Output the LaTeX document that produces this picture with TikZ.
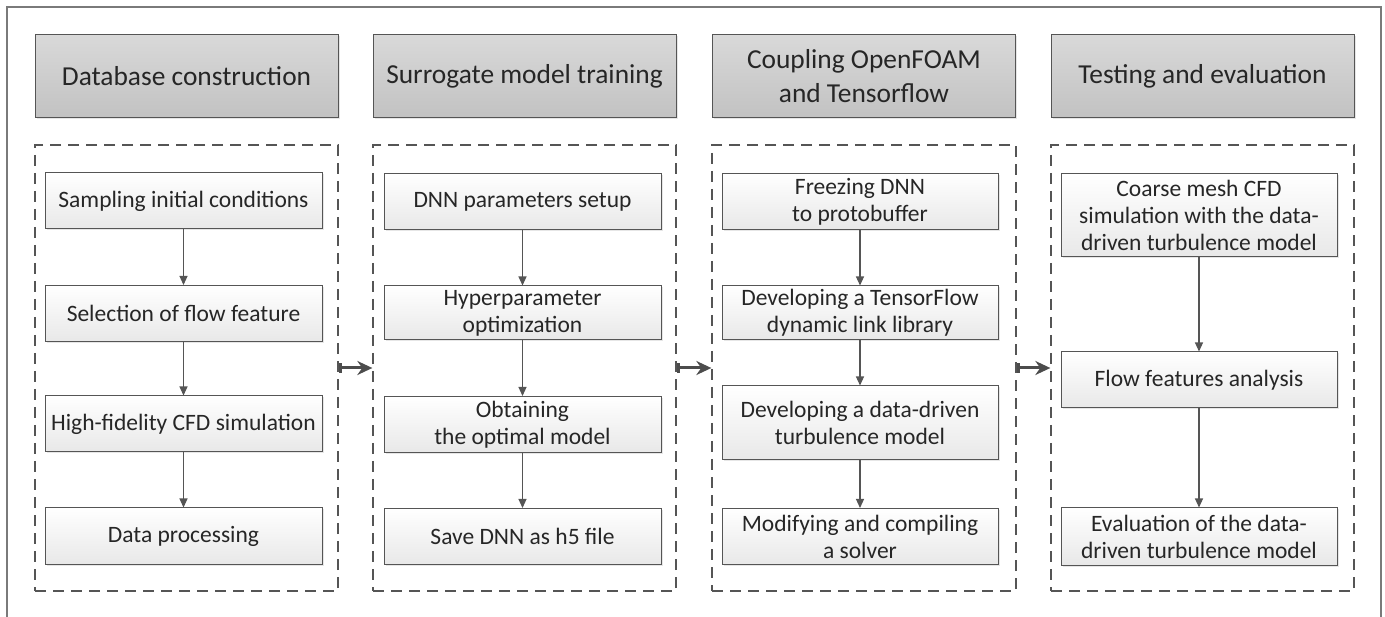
\documentclass[tikz,border=0pt]{standalone}
\usepackage{fontspec}
\setmainfont{Carlito}
\usetikzlibrary{arrows.meta,shadows}
\definecolor{edge}{HTML}{555555}
\definecolor{frame}{HTML}{7A7A7A}
\begin{document}
\begin{tikzpicture}[x=1pt,y=1pt]
  \tikzstyle{head}=[draw=edge,line width=1pt,minimum width=303pt,minimum height=83pt,align=center,
    top color=gray!30,bottom color=gray!48,font=\fontsize{27.4}{34}\selectfont,text=black!85,
    drop shadow={shadow xshift=1.5pt,shadow yshift=-1.5pt,opacity=0.2}]
  \tikzstyle{stage}=[draw=edge,dashed,dash pattern=on 11pt off 7pt,line width=1.3pt,minimum width=303pt,minimum height=446pt]
  \tikzstyle{task}=[draw=edge,line width=1pt,minimum width=277pt,minimum height=56pt,align=center,inner sep=2pt,
    top color=white,bottom color=gray!18,font=\fontsize{23.5}{27}\selectfont,text=black!85,
    drop shadow={shadow xshift=1.5pt,shadow yshift=-1.5pt,opacity=0.2}]
  \tikzstyle{flow}=[-{Triangle[length=9pt,width=8pt]},line width=1.1pt,draw=edge]
  \tikzstyle{pass}=[{Bar[width=10pt]}-{Stealth[length=15pt,width=14pt]},line width=3pt,draw=black!70]
  \useasboundingbox (0,0) rectangle (1385,-617);
  \draw[frame,line width=1.5pt] (7,-617) -- (7,-7) -- (1381,-7) -- (1381,-617);
  % column headers
  \node[head] (h1) at (186.5,-76.5) {Database construction};
  \node[head] (h2) at (524.5,-76.5) {Surrogate model training};
  \node[head] (h3) at (864,-76.5) {Coupling OpenFOAM\\and Tensorflow};
  \node[head] (h4) at (1202.5,-76.5) {Testing and evaluation};
  % dashed stages
  \node[stage] (s1) at (186.5,-368) {};
  \node[stage] (s2) at (524.5,-368) {};
  \node[stage,minimum width=304pt] (s3) at (864,-368) {};
  \node[stage] (s4) at (1202.5,-368) {};
  % database construction
  \node[task] (a1) at (183.5,-201) {Sampling initial conditions};
  \node[task] (a2) at (183.5,-313.5) {Selection of flow feature};
  \node[task] (a3) at (183.5,-424) {High-fidelity CFD simulation};
  \node[task] (a4) at (183.5,-536) {Data processing};
  % surrogate model training
  \node[task] (b1) at (522.5,-201.5) {DNN parameters setup};
  \node[task,minimum height=54pt] (b2) at (522.5,-313) {Hyperparameter\\optimization};
  \node[task] (b3) at (522.5,-424.5) {Obtaining\\the optimal model};
  \node[task] (b4) at (522.5,-536.5) {Save DNN as h5 file};
  % coupling
  \node[task,minimum width=276pt] (c1) at (860,-201.5) {Freezing DNN\\to protobuffer};
  \node[task,minimum width=276pt,minimum height=54pt] (c2) at (860,-313) {Developing a TensorFlow\\dynamic link library};
  \node[task,minimum width=276pt,minimum height=74pt] (c3) at (860,-423) {Developing a data-driven\\turbulence model};
  \node[task,minimum width=276pt] (c4) at (860,-536.5) {Modifying and compiling\\a solver};
  % testing and evaluation
  \node[task,minimum width=276pt,minimum height=83pt] (d1) at (1199,-215.5) {Coarse mesh CFD\\simulation with the data-\\driven turbulence model};
  \node[task,minimum width=276pt] (d2) at (1199,-380) {Flow features analysis};
  \node[task,minimum width=276pt,minimum height=57pt] (d3) at (1199,-536.5) {Evaluation of the data-\\driven turbulence model};
  \draw[flow] (a1) -- (a2);
  \draw[flow] (a2) -- (a3);
  \draw[flow] (a3) -- (a4);
  \draw[flow] (b1) -- (b2);
  \draw[flow] (b2) -- (b3);
  \draw[flow] (b3) -- (b4);
  \draw[flow] (c1) -- (c2);
  \draw[flow] (c2) -- (c3);
  \draw[flow] (c3) -- (c4);
  \draw[flow] (d1) -- (d2);
  \draw[flow] (d2) -- (d3);
  \draw[pass] (s1.east) -- (s2.west);
  \draw[pass] (s2.east) -- (s3.west);
  \draw[pass] (s3.east) -- (s4.west);
\end{tikzpicture}
\end{document}
